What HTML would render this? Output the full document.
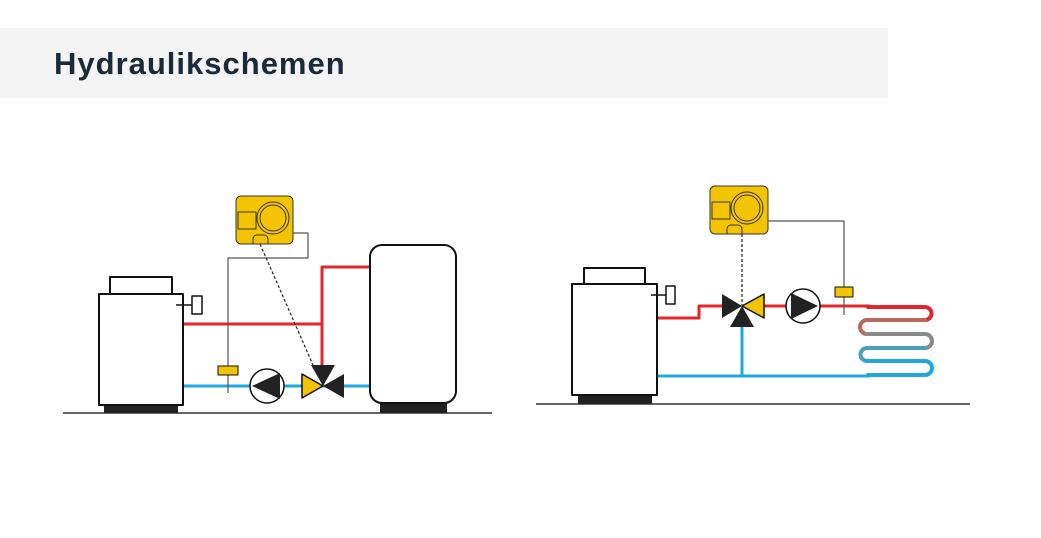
<!DOCTYPE html>
<html><head><meta charset="utf-8"><style>
body{margin:0;width:1041px;height:538px;background:#fff;overflow:hidden;position:relative;font-family:"Liberation Sans",sans-serif}
.hdr{position:absolute;left:0;top:28px;width:888px;height:70px;background:#f4f4f5}
.hdr span{position:absolute;left:54px;top:18px;font-size:31px;letter-spacing:1px;font-weight:bold;color:#1a2a3a}
svg{position:absolute;left:0;top:0}
</style></head><body>
<div class="hdr"><span>Hydraulikschemen</span></div>
<svg width="1041" height="538" viewBox="0 0 1041 538">
<g fill="none" stroke-linejoin="round">
<!-- LEFT -->
<line x1="63" y1="413" x2="492" y2="413" stroke="#333" stroke-width="1.5"/>
<rect x="104" y="405" width="74" height="8" fill="#222" stroke="none"/>
<rect x="380" y="403" width="67" height="10" fill="#222" stroke="none"/>
<polyline points="183,324 322,324" stroke="#e3262b" stroke-width="3"/>
<polyline points="322,365 322,267 370,267" stroke="#e3262b" stroke-width="3"/>
<line x1="183" y1="386" x2="370" y2="386" stroke="#22a7dd" stroke-width="3"/>
<rect x="99" y="294" width="84" height="111" fill="#fff" stroke="#111" stroke-width="2"/>
<rect x="110" y="277" width="62" height="17" fill="#fff" stroke="#111" stroke-width="2"/>
<line x1="176" y1="305" x2="192" y2="305" stroke="#111" stroke-width="1.5"/>
<rect x="192" y="296" width="10" height="18" fill="#fff" stroke="#111" stroke-width="1.5"/>
<rect x="370" y="245" width="86" height="158" rx="12" fill="#fff" stroke="#111" stroke-width="2"/>
<polyline points="293,233 308,233 308,258 228,258 228,393" stroke="#555" stroke-width="1.2"/>
<rect x="218" y="366" width="20" height="9" fill="#f5c400" stroke="#111" stroke-width="1"/>
<line x1="260" y1="244" x2="313" y2="365" stroke="#222" stroke-width="1.2" stroke-dasharray="3,2"/>
<circle cx="267" cy="386" r="17" fill="#fff" stroke="#111" stroke-width="1.5"/>
<polygon points="252,386 280,373 280,399" fill="#222" stroke="none"/>
<polygon points="302,374 302,398 323,386" fill="#f5c400" stroke="#111" stroke-width="1.5"/>
<polygon points="344,374 344,398 323,386" fill="#222" stroke="none"/>
<polygon points="311,365 335,365 323,386" fill="#222" stroke="none"/>
<rect x="236" y="196" width="57" height="48" rx="5" fill="#f5c400" stroke="#333" stroke-width="1"/>
<rect x="238" y="212" width="18" height="17" stroke="#333" stroke-width="1"/>
<circle cx="273" cy="218" r="16" stroke="#333" stroke-width="1"/>
<circle cx="273" cy="218" r="13" stroke="#333" stroke-width="1"/>
<path d="M253,244 v-5 a4,4 0 0 1 4,-4 h7 a4,4 0 0 1 4,4 v5" stroke="#333" stroke-width="1"/>
<!-- RIGHT -->
<line x1="536" y1="404" x2="970" y2="404" stroke="#333" stroke-width="1.5"/>
<rect x="578" y="395" width="74" height="9" fill="#222" stroke="none"/>
<polyline points="657,318 699,318 699,306 722,306" stroke="#e3262b" stroke-width="3"/>
<line x1="764" y1="306" x2="870" y2="306" stroke="#e3262b" stroke-width="3"/>
<line x1="742" y1="327" x2="742" y2="376" stroke="#22a7dd" stroke-width="3"/>
<line x1="657" y1="376" x2="870" y2="376" stroke="#22a7dd" stroke-width="3"/>
<rect x="572" y="284" width="85" height="111" fill="#fff" stroke="#111" stroke-width="2"/>
<rect x="584" y="268" width="61" height="16" fill="#fff" stroke="#111" stroke-width="2"/>
<line x1="651" y1="295" x2="666" y2="295" stroke="#111" stroke-width="1.5"/>
<rect x="666" y="286" width="9" height="18" fill="#fff" stroke="#111" stroke-width="1.5"/>
<!-- coil -->
<g stroke-width="4" stroke-linecap="round">
<path d="M868,307 H925 A6.5,6.5 0 0 1 925,320" stroke="#e3262b"/>
<path d="M925,320 H867 A7,7 0 0 0 867,334" stroke="#b86a5a"/>
<path d="M867,334 H925 A7,7 0 0 1 925,348" stroke="#8a8a8a"/>
<path d="M925,348 H867 A6.5,6.5 0 0 0 867,361" stroke="#4aa0b8"/>
<path d="M867,361 H925 A7,7 0 0 1 925,375 H868" stroke="#22a7dd"/>
</g>
<polyline points="768,221 844,221 844,315" stroke="#555" stroke-width="1.2"/>
<rect x="835" y="287" width="18" height="10" fill="#f5c400" stroke="#111" stroke-width="1"/>
<line x1="742" y1="234" x2="742" y2="305" stroke="#222" stroke-width="1.2" stroke-dasharray="3,2"/>
<circle cx="803" cy="306" r="17" fill="#fff" stroke="#111" stroke-width="1.5"/>
<polygon points="818,306 791,293 791,319" fill="#222" stroke="none"/>
<polygon points="722,294 722,318 742,306" fill="#222" stroke="none"/>
<polygon points="764,294 764,318 742,306" fill="#f5c400" stroke="#111" stroke-width="1.5"/>
<polygon points="730,327 754,327 742,306" fill="#222" stroke="none"/>
<rect x="710" y="186" width="58" height="48" rx="5" fill="#f5c400" stroke="#333" stroke-width="1"/>
<rect x="712" y="202" width="18" height="17" stroke="#333" stroke-width="1"/>
<circle cx="747" cy="208" r="16" stroke="#333" stroke-width="1"/>
<circle cx="747" cy="208" r="13" stroke="#333" stroke-width="1"/>
<path d="M727,234 v-5 a4,4 0 0 1 4,-4 h7 a4,4 0 0 1 4,4 v5" stroke="#333" stroke-width="1"/>
</g>
</svg>
</body></html>
